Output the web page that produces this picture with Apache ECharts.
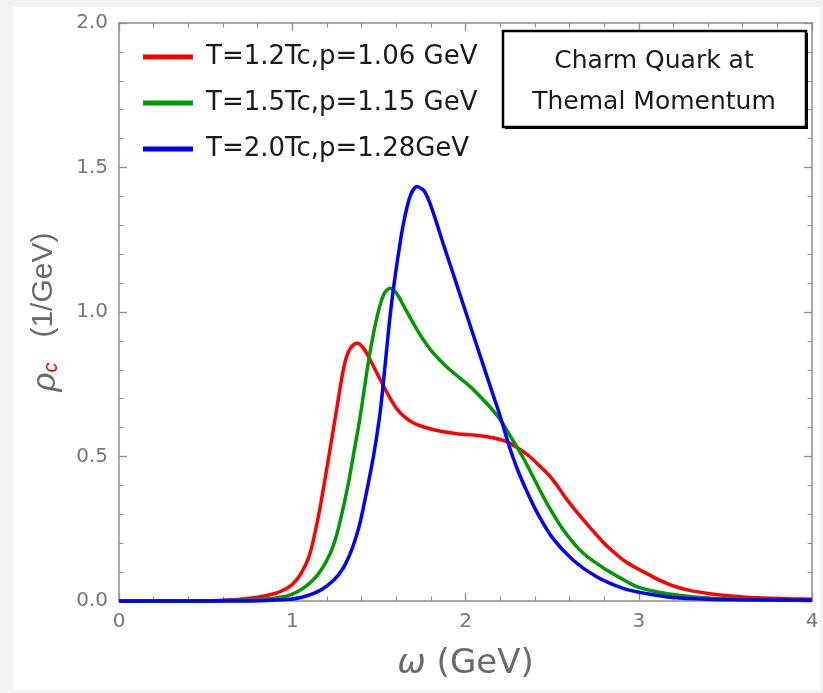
<!DOCTYPE html>
<html>
<head>
<meta charset="utf-8">
<script src="https://cdn.jsdelivr.net/npm/echarts@6/dist/echarts.min.js"></script>
<style>
  html, body { margin: 0; padding: 0; background: #f2f2f2; }
  #chart { width: 823px; height: 693px; }
</style>
</head>
<body>
<div id="chart"></div>
<script>
// spectral function curves: [omega (GeV), rho_c (1/GeV)]
var seriesNames = ['T=1.2Tc,p=1.06 GeV', 'T=1.5Tc,p=1.15 GeV', 'T=2.0Tc,p=1.28GeV'];
var seriesColors = ['#ff0000', '#009a00', '#0000ff'];

var redCurve = [[0,0],[0.3,0],[0.5,0.001],[0.6,0.003],[0.7,0.006],[0.8,0.013],[0.9,0.026],[0.95,0.038],
  [1.0,0.057],[1.05,0.095],[1.1,0.16],[1.15,0.29],[1.2,0.46],[1.25,0.64],[1.3,0.815],[1.335,0.874],
  [1.375,0.892],[1.41,0.876],[1.45,0.834],[1.5,0.775],[1.55,0.718],[1.6,0.668],[1.65,0.636],[1.7,0.616],
  [1.76,0.602],[1.85,0.588],[1.95,0.579],[2.05,0.574],[2.15,0.566],[2.24,0.551],[2.3,0.53],[2.37,0.5],
  [2.43,0.466],[2.49,0.43],[2.54,0.39],[2.58,0.355],[2.63,0.317],[2.68,0.281],[2.74,0.24],[2.8,0.2],
  [2.86,0.167],[2.91,0.142],[2.98,0.116],[3.05,0.094],[3.12,0.072],[3.2,0.052],[3.3,0.036],[3.4,0.026],
  [3.5,0.019],[3.6,0.014],[3.7,0.011],[3.8,0.009],[3.9,0.007],[4.0,0.006]];

var greenCurve = [[0,0],[0.5,0],[0.65,0.001],[0.75,0.003],[0.85,0.007],[0.95,0.015],[1.0,0.024],[1.06,0.043],
  [1.12,0.073],[1.17,0.11],[1.22,0.165],[1.25,0.215],[1.28,0.285],[1.32,0.395],[1.35,0.495],[1.39,0.63],
  [1.42,0.75],[1.45,0.865],[1.49,0.985],[1.53,1.063],[1.565,1.082],[1.6,1.066],[1.64,1.025],[1.7,0.96],
  [1.75,0.91],[1.8,0.868],[1.85,0.835],[1.91,0.8],[2.03,0.74],[2.14,0.672],[2.2,0.628],[2.26,0.569],
  [2.3,0.53],[2.34,0.488],[2.39,0.43],[2.47,0.338],[2.565,0.246],[2.68,0.165],[2.815,0.107],[2.95,0.061],
  [3.0,0.047],[3.1,0.032],[3.24,0.019],[3.4,0.01],[3.6,0.005],[3.8,0.003],[4.0,0.002]];

var blueCurve = [[0,0],[0.7,0],[0.85,0.002],[0.99,0.006],[1.05,0.012],[1.1,0.021],[1.17,0.04],[1.24,0.073],
  [1.29,0.11],[1.335,0.165],[1.37,0.225],[1.395,0.28],[1.435,0.395],[1.47,0.505],[1.5,0.62],[1.52,0.72],
  [1.558,0.949],[1.583,1.075],[1.61,1.19],[1.64,1.3],[1.68,1.4],[1.72,1.434],[1.76,1.42],[1.795,1.376],
  [1.835,1.305],[1.872,1.235],[1.92,1.148],[1.97,1.057],[2.065,0.884],[2.16,0.712],[2.2,0.64],[2.25,0.54],
  [2.3,0.455],[2.35,0.385],[2.41,0.31],[2.5,0.22],[2.62,0.142],[2.757,0.084],[2.91,0.044],[3.05,0.025],
  [3.2,0.012],[3.4,0.006],[3.6,0.004],[4.0,0.003]];

var curves = [redCurve, greenCurve, blueCurve];
var boxLines = ['Charm Quark at', 'Themal Momentum'];

var frameColor = '#8e8e8e';
var labelColor = '#777777';
var font = 'DejaVu Sans';

function frameAxis(extra) {
  var ax = {
    type: 'value',
    axisLine: { show: true, onZero: false, lineStyle: { color: frameColor, width: 1.5 } },
    axisTick: { show: true, inside: true, length: 8, lineStyle: { color: frameColor, width: 1.3 } },
    minorTick: { show: true, splitNumber: 5, length: 4.5, lineStyle: { color: frameColor, width: 1.1 } },
    splitLine: { show: false },
    axisLabel: { show: false }
  };
  for (var k in extra) ax[k] = extra[k];
  return ax;
}

var chart = echarts.init(document.getElementById('chart'));
chart.setOption({
  backgroundColor: '#f2f2f2',
  animation: false,
  grid: { left: 119, right: 11, top: 23, bottom: 92 },
  graphic: [
    { type: 'rect', z: -10, silent: true, shape: { x: 13, y: 7, width: 807, height: 683 }, style: { fill: '#ffffff' } },
    { type: 'rect', z: 10, shape: { x: 505, y: 33, width: 303, height: 96 }, style: { fill: '#000000' } },
    { type: 'rect', z: 10, shape: { x: 503, y: 31, width: 303, height: 96 }, style: { fill: '#ffffff', stroke: '#000000', lineWidth: 2.5 } },
    { type: 'text', z: 11, style: { x: 654, y: 61, text: boxLines[0], font: '25px "' + font + '"', fill: '#1a1a1a', textAlign: 'center', textVerticalAlign: 'middle' } },
    { type: 'text', z: 11, style: { x: 654, y: 102, text: boxLines[1], font: '25px "' + font + '"', fill: '#1a1a1a', textAlign: 'center', textVerticalAlign: 'middle' } }
  ],
  legend: {
    left: 138, top: 39, orient: 'vertical',
    icon: 'rect', itemWidth: 50, itemHeight: 5, itemGap: 20,
    textStyle: { fontFamily: font, fontSize: 26, lineHeight: 25, color: '#1a1a1a', padding: [0, 0, 0, 8] },
    data: seriesNames
  },
  xAxis: [
    frameAxis({
      position: 'bottom', min: 0, max: 4, interval: 1,
      axisLabel: { show: true, color: labelColor, fontFamily: font, fontSize: 20, margin: 11 },
      name: '{w|ω} (GeV)', nameLocation: 'middle', nameGap: 46,
      nameTextStyle: { color: '#6a6a6a', fontFamily: font, fontSize: 34, rich: { w: { fontStyle: 'italic', fontSize: 34, color: '#6a6a6a', fontFamily: font } } }
    }),
    frameAxis({ position: 'top', min: 0, max: 4, interval: 1 })
  ],
  yAxis: [
    frameAxis({
      position: 'left', min: 0, max: 2, interval: 0.5,
      axisLabel: { show: true, color: labelColor, fontFamily: font, fontSize: 20, margin: 11, formatter: function (v) { return v.toFixed(1); } },
      name: '{r|ρ}{c|c}{n|   (1/GeV)}', nameLocation: 'middle', nameGap: 58, nameRotate: 90,
      nameTextStyle: {
        rich: {
          r: { fontStyle: 'italic', fontSize: 33, lineHeight: 32, verticalAlign: 'top', color: '#6a6a6a', fontFamily: 'Liberation Sans' },
          c: { fontStyle: 'italic', fontSize: 20, lineHeight: 20, verticalAlign: 'bottom', color: '#ff0000', fontFamily: 'Liberation Sans' },
          n: { fontSize: 30, lineHeight: 32, verticalAlign: 'top', color: '#6a6a6a', fontFamily: 'Liberation Sans' }
        }
      }
    }),
    frameAxis({ position: 'right', min: 0, max: 2, interval: 0.5 })
  ],
  series: curves.map(function (d, i) {
    return {
      name: seriesNames[i], type: 'line', data: d,
      xAxisIndex: 0, yAxisIndex: 0,
      smooth: 0.3, symbol: 'none', clip: false,
      lineStyle: { color: seriesColors[i], width: 3.5 },
      itemStyle: { color: seriesColors[i] }
    };
  })
});
</script>
</body>
</html>
